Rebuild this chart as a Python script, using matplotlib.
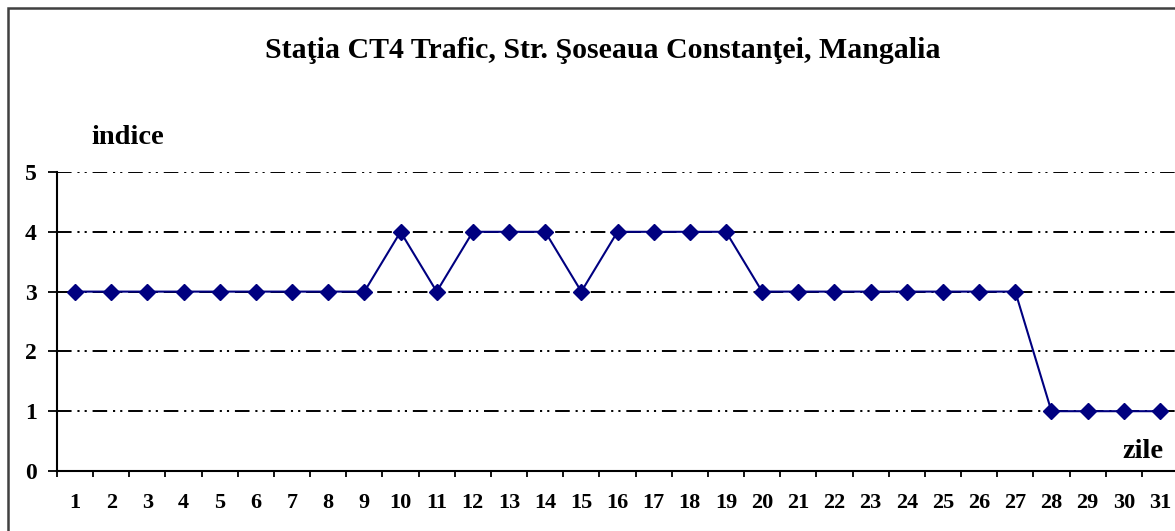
import matplotlib.pyplot as plt
from matplotlib.patches import Rectangle
from matplotlib.ticker import FixedLocator

# date
zile = list(range(1, 32))
indice = [3, 3, 3, 3, 3, 3, 3, 3, 3, 4, 3, 4, 4, 4, 3, 4, 4, 4, 4,
          3, 3, 3, 3, 3, 3, 3, 3, 1, 1, 1, 1]
y_ticks = [0, 1, 2, 3, 4, 5]
titlu = "Staţia CT4 Trafic, Str. Şoseaua Constanţei, Mangalia"

plt.rcParams['font.family'] = ['Liberation Serif', 'DejaVu Serif']
plt.rcParams['font.weight'] = 'bold'

W, H = 1175, 531
fig = plt.figure(figsize=(W / 100, H / 100), dpi=100)
ax = fig.add_axes([57 / W, 60 / H, (1178 - 57) / W, 299 / H])

# chenar exterior
fig.patches.append(Rectangle((8 / W, -0.1), 1.2, 1.1 - 8 / H, transform=fig.transFigure,
                             fill=False, edgecolor='#404040', linewidth=1.8))

# linii de grila punct-punct-linie
for y in y_ticks[1:]:
    ax.axhline(y, color='black', linewidth=1.4, dashes=(7.5, 3, 1.1, 2.6, 1.1, 3), zorder=1)

ax.plot(zile, indice, color='#000080', linewidth=1.5, marker='D', markersize=8, zorder=3)

ax.set_xlim(0.5, 31.5)
ax.set_ylim(0, 5)
ax.set_yticks(y_ticks)
ax.set_xticks(zile)
ax.xaxis.set_minor_locator(FixedLocator([i + 0.5 for i in range(0, 32)]))
ax.tick_params(axis='x', which='major', length=0, pad=16, labelsize=16)
ax.tick_params(axis='x', which='minor', length=4.5, width=1.3, direction='out')
ax.tick_params(axis='y', length=6.5, width=1.3, pad=8, labelsize=17)
for lab in ax.get_xticklabels() + ax.get_yticklabels():
    lab.set_fontweight('bold')

for s in ['top', 'right']:
    ax.spines[s].set_visible(False)
for s in ['left', 'bottom']:
    ax.spines[s].set_linewidth(1.5)

fig.text(603 / W, 1 - 50 / H, titlu, ha='center', va='center', fontsize=21.5, fontweight='bold')
fig.text(128 / W, 1 - 137 / H, "indice", ha='center', va='center', fontsize=20.5, fontweight='bold')
fig.text(1143 / W, 1 - 452 / H, "zile", ha='center', va='center', fontsize=20.5, fontweight='bold')

fig.savefig('out.png', dpi=100)
